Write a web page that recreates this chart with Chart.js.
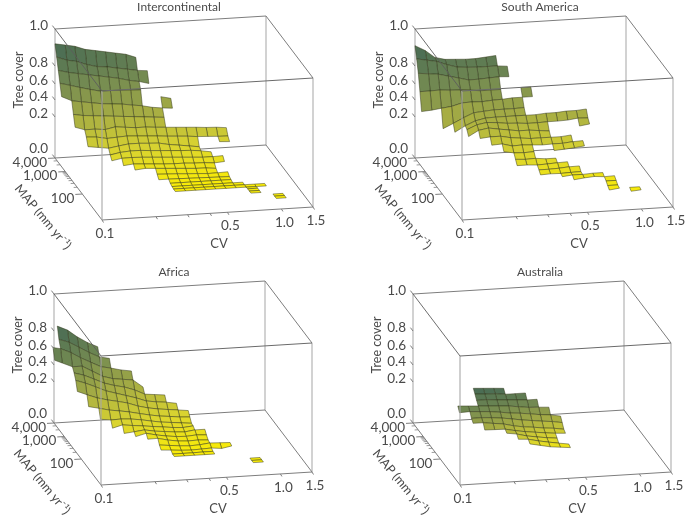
<!DOCTYPE html>
<html>
<head>
<meta charset="utf-8">
<script src="https://cdn.jsdelivr.net/npm/chart.js@4/dist/chart.umd.js"></script>
<style>
body { margin: 0; background: #fff; overflow: hidden; }
#charts { position: relative; width: 685px; height: 516px; }
#charts canvas { position: absolute; }
</style>
</head>
<body>
<div id="charts"></div>
<script>
const _ = null;

// bin centres of the surface grid
const cvBins = [0.1, 0.114, 0.129, 0.147, 0.168, 0.191, 0.217, 0.248, 0.282, 0.32, 0.365, 0.415, 0.473, 0.538, 0.613, 0.698, 0.794, 0.904, 1.03, 1.17, 1.33, 1.5];
const africaCvBins = [0.0908, 0.1, 0.114, 0.129, 0.147, 0.168, 0.191, 0.217, 0.248, 0.282, 0.32, 0.365, 0.415, 0.473, 0.538, 0.613, 0.698, 0.794, 0.904, 1.03, 1.17];
const mapBins = [4000, 3203, 2565, 2054, 1645, 1317, 1055, 845, 676, 542, 434, 347, 278, 223, 178, 143, 114, 92, 73, 59, 47, 38, 30, 24, 19];

const intercontinentalCover = [
    [.92, .91, .90, .88, .87, .86, .85, .84, .82],
    [.86, .84, .83, .81, .79, .78, .76, .74, .72, .71],
    [.80, .77, .75, .73, .71, .69, .67, .64, .62, .59],
    [.68, .65, .62, .59, .56, .56, .555, .55, .545, _, .445, .416],
    [.55, .49, .47, .45, .43, .42, .41, .39, .375, .35, .335, .325],
    [_, .35, .33, .32, .31, .30, .29, .28, .27, .26, .25],
    [_, .225, .195, .195, .19, .20, .195, .19, .19, .186, .183, .18, .177, .174, .17, .168, .163],
    [_, _, .17, .167, .157, .16, .163, .16, .157, .154, .15, .147, .144, .139, .137, .134, .133],
    [_, _, .134, .127, .12, .128, .135, .135, .132, .13, .12, .114, .107, .10, _, .119, .116],
    [_, _, _, _, .098, .107, .111, .111, .107, .104, .101, .098, .096, .091, .083],
    [_, _, _, _, .08, .089, .09, .088, .085, .082, .079, .076, .073, .07, .07, .072],
    [_, _, _, _, _, .064, .069, .066, .063, .06, .058, .058, .055, .054, .05, .054],
    [_, _, _, _, _, _, .05, .055, .052, .049, .046, .043, .04, .039, .034],
    [_, _, _, _, _, _, _, _, .034, .032, .03, .027, .025, .022, .023, .025],
    [_, _, _, _, _, _, _, _, .018, .018, .017, .016, .015, .014, .013, .012],
    [_, _, _, _, _, _, _, _, _, .008, .008, .008, .008, .008, .008, .008],
    [_, _, _, _, _, _, _, _, _, .003, .003, .003, .003, .003, .003, .003, .003],
    [_, _, _, _, _, _, _, _, _, .001, .001, .001, .001, .001, .001, .001, .001, .001, .001],
    [_, _, _, _, _, _, _, _, _, 0, 0, 0, 0, 0, 0, 0, 0, 0, 0],
    [_, _, _, _, _, _, _, _, _, _, _, _, _, _, _, _, .002, .002],
    [_, _, _, _, _, _, _, _, _, _, _, _, _, _, _, _, .002, .002],
    [_, _, _, _, _, _, _, _, _, _, _, _, _, _, _, _, .002, .002],
    [_, _, _, _, _, _, _, _, _, _, _, _, _, _, _, _, _, _, .003, .003],
    [_, _, _, _, _, _, _, _, _, _, _, _, _, _, _, _, _, _, .003, .003],
    [_, _, _, _, _, _, _, _, _, _, _, _, _, _, _, _, _, _, .003, .003],
];

const southAmericaCover = [
    [.91, .88, .84, .826, .823, .82, .82, .825, .83],
    [.85, .84, .83, .81, .785, .775, .77, .77, .77, .76],
    [.767, .754, .744, .715, .687, .658, .66, .667, .673, .667],
    [.585, .586, .59, .58, .575, .565, .55, .55, .55, _, .56, .56],
    [.365, .375, .39, .405, .44, .445, .44, .45, .455, .465, .465, .465],
    [_, _, .19, .23, .29, .34, .35, .36, .36, .36, .365],
    [_, _, _, .18, .22, .27, .295, .30, .30, .30, .30, .30, .31, .31, .32, .32, .33],
    [_, _, _, _, .20, .25, .27, .26, .245, .24, .23, .23, .235, .235, .24, .255, .25],
    [_, _, _, _, .177, .21, .23, .21, .197, .19, .19, .185, .18, _, _, .195, .205],
    [_, _, _, _, _, .175, .18, .18, .17, .165, .16, .16, .16, .16, .165],
    [_, _, _, _, _, _, .15, .153, .14, .142, .139, .136, .138, .138, .143, .145],
    [_, _, _, _, _, _, _, .126, .117, .115, .117, _, .116, .12, .124, .13],
    [_, _, _, _, _, _, _, _, .096, .093, .095, .09, .09],
    [_, _, _, _, _, _, _, _, .076, .076, .073, .075, .078, .08],
    [_, _, _, _, _, _, _, _, _, _, .06, .06, .062, .066, .067],
    [_, _, _, _, _, _, _, _, _, _, .046, .048, .047, .049, .05],
    [_, _, _, _, _, _, _, _, _, _, _, _, .042, .047, .047, .05, .05],
    [_, _, _, _, _, _, _, _, _, _, _, _, _, .034, .04, .044, .04, .042],
    [_, _, _, _, _, _, _, _, _, _, _, _, _, _, _, _, .03, .03],
    [_, _, _, _, _, _, _, _, _, _, _, _, _, _, _, _, .018, .018],
    [_, _, _, _, _, _, _, _, _, _, _, _, _, _, _, _, .007, .013, .014, .014],
    [_, _, _, _, _, _, _, _, _, _, _, _, _, _, _, _, _, _, .005, .009],
];

const africaCover = [
    [],
    [],
    [_, .85, .825, .77, .70, .645],
    [_, .78, .74, .68, .614, .55, .525],
    [.717, .70, .65, .585, .52, .455, .43, .40, .38],
    [.60, .56, .505, .505, .435, .365, .33, .315, .30, .21],
    [_, _, .455, .42, .366, .31, .275, .25, .208, .18, .175, .17],
    [_, _, .39, .35, .30, .245, .21, .19, .175, .157, .15, .145, .137],
    [_, _, .285, .24, .198, .185, .175, .164, .146, .134, .126, .12, .115, .109],
    [_, _, _, .169, .158, .146, .139, .131, .12, .11, .102, .097, .091, .088],
    [_, _, _, _, .115, .108, .11, .107, .10, .091, .083, .078, .073, .068],
    [_, _, _, _, _, .079, .092, .086, .081, .075, .07, .064, .061, .066],
    [_, _, _, _, _, _, .061, .066, .072, .063, .058, .053, .05, .057, .057],
    [_, _, _, _, _, _, _, .053, .066, .055, .047, .041, .039, .043, .04],
    [_, _, _, _, _, _, _, _, .048, .049, .038, .03, .027, .029, .026],
    [_, _, _, _, _, _, _, _, _, .027, .022, .017, .014, .016, .022, .02, .018],
    [_, _, _, _, _, _, _, _, _, .013, .01, .006, .004, .006, .008, .003, .012],
    [_, _, _, _, _, _, _, _, _, _, .001, .001, .001, .002, .002],
    [_, _, _, _, _, _, _, _, _, _, 0, 0, 0, 0, 0],
    [],
    [],
    [_, _, _, _, _, _, _, _, _, _, _, _, _, _, _, _, _, .002, .002],
    [_, _, _, _, _, _, _, _, _, _, _, _, _, _, _, _, _, .002, .002],
    [_, _, _, _, _, _, _, _, _, _, _, _, _, _, _, _, _, .002, .002],
];

const australiaCover = [
    [], [], [], [], [], [],
    [_, _, _, _, _, .242, .235, .228, .22],
    [_, _, _, _, _, .20, .197, .195, .19, .19, .19],
    [_, _, _, _, _, .18, .18, .176, .173, .17, .167, .167],
    [_, _, _, .169, .166, .163, .16, .157, .154, .147, .141, .139, .136],
    [_, _, _, .147, .149, .146, .143, .137, .13, .126, .12, .113, .109, .10],
    [_, _, _, _, .127, .127, .124, .119, .112, .104, .098, .092, .087, .079],
    [_, _, _, _, .113, .113, .107, .101, .089, .081, .076, .069, .065, .057],
    [_, _, _, _, _, .088, .087, .086, .076, .068, .062, .056, .051, .048],
    [_, _, _, _, _, _, _, .077, .07, .058, .05, .043, .038],
    [_, _, _, _, _, _, _, _, .055, .052, .041, .032, .024, .017],
    [_, _, _, _, _, _, _, _, _, .04, .03, .02, .015, .01],
];

// axis ticks
const coverTicks = [0, 0.2, 0.4, 0.6, 0.8, 1];
const coverTickLabels = ['0.0', '0.2', '0.4', '0.6', '0.8', '1.0'];
const coverTickHeights = [0, 0.318, 0.45, 0.574, 0.713, 1];
const mapMajorTicks = [100, 1000, 4000];
const mapTickLabels = ['100', '1,000', '4,000'];
const mapMinorTicks = [200, 300, 400, 500, 600, 700, 800, 900, 2000, 3000];
const cvMajorTicks = [0.1, 0.5, 1, 1.5];
const cvTickLabels = ['0.1', '0.5', '1.0', '1.5'];
const cvMinorTicks = [0.2, 0.3, 0.4];

const W = 325, H = 251;
const fontName = 'Lato, "Open Sans", sans-serif';
const textColor = '#4a4a4a';

const heightOf = function (cover) {
    for (let k = 1; k < coverTicks.length; k++) {
        if (cover <= coverTicks[k]) {
            let t = (cover - coverTicks[k - 1]) / (coverTicks[k] - coverTicks[k - 1]);
            return coverTickHeights[k - 1] + t * (coverTickHeights[k] - coverTickHeights[k - 1]);
        }
    }
    return 1;
}

// parallel projection of the box on the canvas
const project = function (cv, map, cover) {
    let u = Math.log(cv / 0.1) / Math.log(15);
    let w = Math.log(map / 7) / Math.log(4000 / 7);
    return {
        x: 102 + 211 * u - 47 * w,
        y: 220 - 13 * u - 62 * w - 129 * heightOf(cover),
    };
}

const colorStops = [
    [0, 250, 236, 8],
    [0.2, 218, 212, 48],
    [0.45, 165, 172, 68],
    [0.7, 115, 138, 82],
    [1, 68, 104, 84],
];

const cellColor = function (t) {
    for (let k = 1; k < colorStops.length; k++) {
        if (t <= colorStops[k][0]) {
            let a = colorStops[k - 1], b = colorStops[k];
            let f = (t - a[0]) / (b[0] - a[0]);
            let c = [1, 2, 3].map(n => Math.round(a[n] + f * (b[n] - a[n])));
            return `rgb(${c[0]},${c[1]},${c[2]})`;
        }
    }
    return 'rgb(68,104,84)';
}

const segment = function (a, b, color, width, order) {
    return {
        data: [a, b],
        showLine: true,
        pointRadius: 0,
        borderColor: color,
        borderWidth: width,
        fill: false,
        order: order,
    };
}

const offset = (p, dx, dy) => ({x: p.x + dx, y: p.y + dy});

const boxDatasets = function () {
    let sets = [];
    let low = 7, high = 4000;
    let dark = '#7d7d7d', light = '#b4b4b4';
    // behind the surface
    sets.push(segment(project(0.1, high, 0), project(1.5, high, 0), dark, 1, 300));
    sets.push(segment(project(1.5, high, 0), project(1.5, low, 0), dark, 1, 300));
    sets.push(segment(project(0.1, low, 0), project(1.5, low, 0), dark, 1, 300));
    sets.push(segment(project(0.1, high, 0), project(0.1, low, 0), dark, 1, 300));
    sets.push(segment(project(0.1, high, 1), project(1.5, high, 1), dark, 1, 300));
    sets.push(segment(project(1.5, high, 1), project(1.5, low, 1), dark, 1, 300));
    sets.push(segment(project(0.1, high, 0), project(0.1, high, 1), light, 1.2, 300));
    sets.push(segment(project(1.5, high, 0), project(1.5, high, 1), light, 1.2, 300));
    sets.push(segment(project(1.5, low, 0), project(1.5, low, 1), light, 1.2, 300));
    // over the surface
    sets.push(segment(project(0.1, high, 1), project(0.1, low, 1), '#5c5c5c', 0.9, 0));
    sets.push(segment(project(0.1, low, 1), project(1.5, low, 1), '#6a6a6a', 1, 0));
    sets.push(segment(project(0.1, low, 0), project(0.1, low, 1), '#a8a8a8', 1.1, 0));

    coverTicks.forEach(c => {
        let p = project(0.1, high, c);
        sets.push(segment(p, offset(p, -2.6, -3.4), dark, 1, 0));
    });
    mapMajorTicks.forEach(m => {
        let p = project(0.1, m, 0);
        sets.push(segment(p, offset(p, -7, 0.4), dark, 1, 0));
    });
    mapMinorTicks.forEach(m => {
        let p = project(0.1, m, 0);
        sets.push(segment(p, offset(p, -3.5, 0.2), dark, 0.8, 0));
    });
    cvMajorTicks.concat(cvMinorTicks).forEach(c => {
        let p = project(c, low, 0);
        sets.push(segment(p, offset(p, 1.5, 2.5), dark, 1, 0));
    });
    return sets;
}

const cellDatasets = function (cover, cvs) {
    let sets = [];
    let top = 0;
    cover.forEach(row => row.forEach(v => {
        if (v !== null) top = Math.max(top, heightOf(v));
    }));
    for (let j = 0; j < cover.length - 1; j++) {
        for (let i = 0; i < cover[j].length - 1; i++) {
            let a = cover[j][i], b = cover[j][i + 1], c = cover[j + 1][i + 1], d = cover[j + 1][i];
            if (a == null || b == null || c == null || d == null) continue;
            let first = project(cvs[i], mapBins[j], a);
            let t = (heightOf(a) + heightOf(b) + heightOf(c) + heightOf(d)) / (4 * top);
            sets.push({
                data: [
                    first,
                    project(cvs[i + 1], mapBins[j], b),
                    project(cvs[i + 1], mapBins[j + 1], c),
                    project(cvs[i], mapBins[j + 1], d),
                    first,
                ],
                showLine: true,
                pointRadius: 0,
                borderColor: 'rgba(48,52,24,0.8)',
                borderWidth: 0.6,
                backgroundColor: cellColor(t),
                fill: 'shape',
                order: 100 - j,
            });
        }
    }
    return sets;
}

const axisText = {
    id: 'axisText',
    afterDraw(chart, args, opts) {
        let ctx = chart.ctx;
        let sx = chart.scales.x, sy = chart.scales.y;
        let put = function (text, x, y, align, size, angle) {
            ctx.save();
            ctx.translate(sx.getPixelForValue(x), sy.getPixelForValue(y));
            ctx.rotate((angle || 0) * Math.PI / 180);
            ctx.font = `${size}px ${fontName}`;
            ctx.fillStyle = textColor;
            ctx.textAlign = align;
            ctx.textBaseline = 'middle';
            ctx.fillText(text, 0, 0);
            ctx.restore();
        };
        put(opts.title, opts.titleX, 7, 'center', 12);
        put('Tree cover', 19, 80, 'center', 12.5, -90);
        put('MAP (mm yr\u207B\u00B9)', 43, 217, 'center', 12.5, 50);
        put('CV', 219, 244, 'center', 13);
        coverTicks.forEach((c, k) => {
            let p = project(0.1, 4000, c);
            put(coverTickLabels[k], 48, c === 0 ? 149 : p.y - 3, 'right', 13.5);
        });
        mapMajorTicks.forEach((m, k) => {
            let p = project(0.1, m, 0);
            put(mapTickLabels[k], p.x - 8, p.y + 4.5, 'right', 13.5);
        });
        cvMajorTicks.forEach((c, k) => {
            let p = project(c, 7, 0);
            put(cvTickLabels[k], p.x + 3, p.y + 13.5, 'center', 13.5);
        });
    }
};

const drawPanel = function (name, titleX, left, top, cover, cvs) {
    let charts = document.getElementById('charts');
    let chart = document.createElement('canvas');
    chart.setAttribute('id', name);
    chart.width = W;
    chart.height = H;
    chart.style.left = left + 'px';
    chart.style.top = top + 'px';
    charts.appendChild(chart);

    new Chart(chart.getContext('2d'), {
        type: 'scatter',
        data: {datasets: boxDatasets().concat(cellDatasets(cover, cvs))},
        plugins: [axisText],
        options: {
            responsive: false,
            animation: false,
            events: [],
            clip: false,
            layout: {padding: 0},
            scales: {
                x: {type: 'linear', display: false, min: 0, max: W},
                y: {type: 'linear', display: false, min: 0, max: H, reverse: true},
            },
            plugins: {
                legend: {display: false},
                tooltip: {enabled: false},
                axisText: {title: name, titleX: titleX},
            },
        },
    });
}

drawPanel('Intercontinental', 179, 0, 0, intercontinentalCover, cvBins);
drawPanel('South America', 180, 360, 0, southAmericaCover, cvBins);
drawPanel('Africa', 175, -1, 265, africaCover, africaCvBins);
drawPanel('Australia', 182, 358, 265, australiaCover, cvBins);
</script>
</body>
</html>
